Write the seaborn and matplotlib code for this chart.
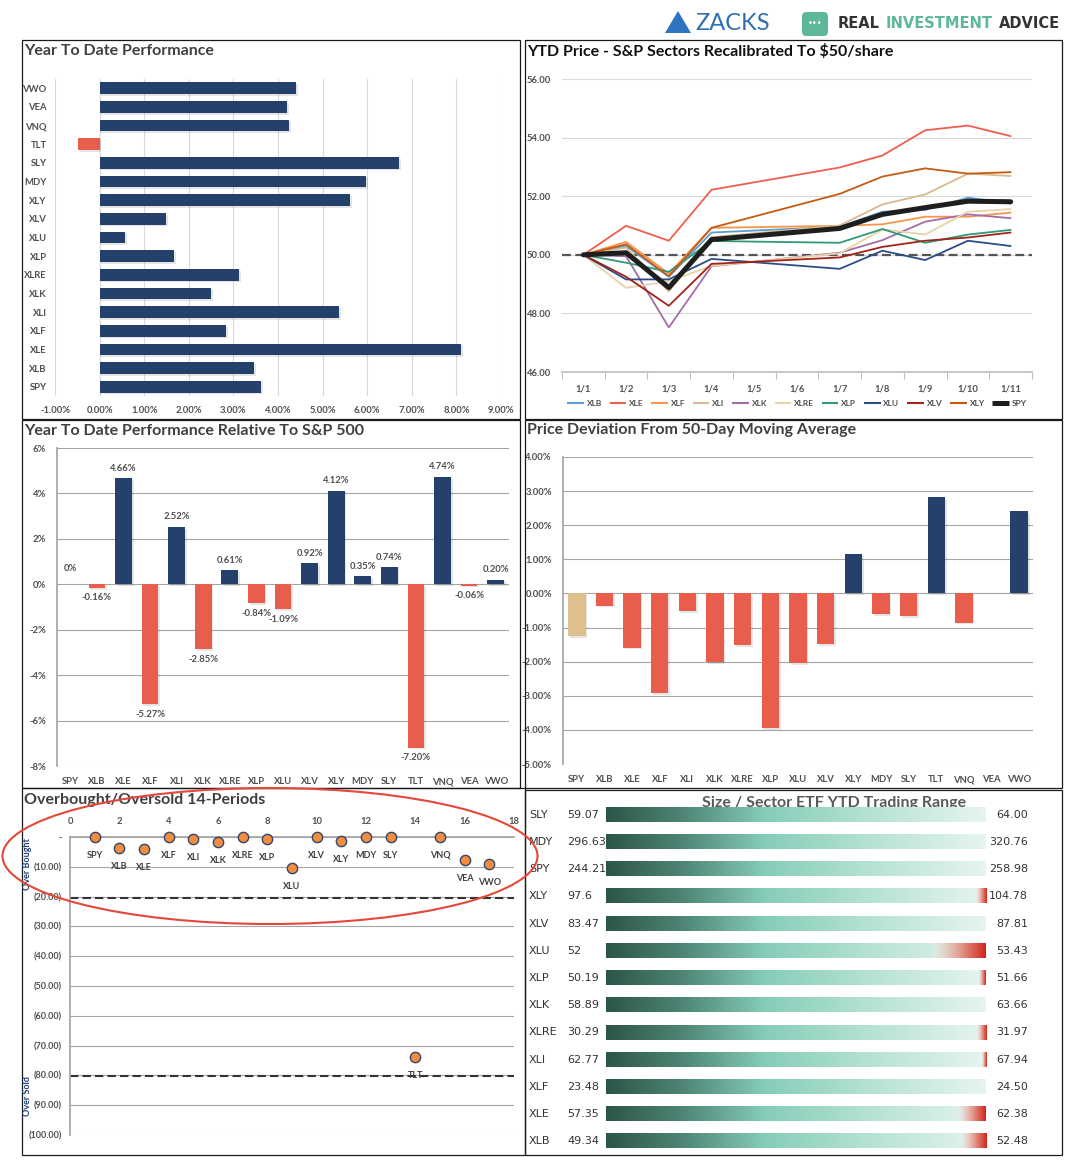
import numpy as np
import pandas as pd
import matplotlib
matplotlib.use("Agg")
import matplotlib.pyplot as plt
import seaborn as sns
from matplotlib.patches import Rectangle, Ellipse, Polygon, FancyBboxPatch
from matplotlib.lines import Line2D
from matplotlib.colors import LinearSegmentedColormap
import matplotlib.patheffects as pe
import matplotlib.transforms as mtrans

# ---------------- DATA ----------------
ytd_tickers = ["VWO", "VEA", "VNQ", "TLT", "SLY", "MDY", "XLY", "XLV", "XLU",
               "XLP", "XLRE", "XLK", "XLI", "XLF", "XLE", "XLB", "SPY"]
ytd_perf = [4.41, 4.21, 4.25, -0.48, 6.72, 5.98, 5.62, 1.49, 0.58,
            1.67, 3.13, 2.50, 5.37, 2.84, 8.11, 3.47, 3.62]

all_dates = ["1/1", "1/2", "1/3", "1/4", "1/5", "1/6", "1/7", "1/8", "1/9", "1/10", "1/11"]
trade_dates = ["1/1", "1/2", "1/3", "1/4", "1/7", "1/8", "1/9", "1/10", "1/11"]
xlb = [50, 50.30, 49.25, 50.76, 50.96, 51.47, 51.53, 51.95, 51.75]
xle = [50, 50.99, 50.48, 52.22, 52.98, 53.39, 54.25, 54.41, 54.05]
xlf = [50, 50.44, 49.36, 50.92, 50.99, 51.04, 51.30, 51.30, 51.44]
xli = [50, 50.25, 48.75, 50.60, 51.00, 51.72, 52.06, 52.77, 52.69]
xlk = [50, 49.95, 47.52, 49.61, 50.07, 50.50, 51.13, 51.38, 51.25]
xlre = [50, 48.87, 49.10, 49.62, 50.05, 50.87, 50.69, 51.47, 51.56]
xlp = [50, 49.73, 49.42, 50.47, 50.41, 50.88, 50.41, 50.69, 50.85]
xlu = [50, 49.16, 49.16, 49.86, 49.52, 50.14, 49.82, 50.48, 50.30]
xlv = [50, 49.25, 48.26, 49.69, 49.91, 50.27, 50.48, 50.59, 50.76]
xly = [50, 50.36, 49.27, 50.92, 52.08, 52.67, 52.95, 52.77, 52.82]
spy = [50, 50.07, 48.88, 50.52, 50.90, 51.38, 51.61, 51.83, 51.81]
base_price = 50.0

rel_tickers = ["SPY", "XLB", "XLE", "XLF", "XLI", "XLK", "XLRE", "XLP", "XLU",
               "XLV", "XLY", "MDY", "SLY", "TLT", "VNQ", "VEA", "VWO"]
rel_perf = [0, -0.16, 4.66, -5.27, 2.52, -2.85, 0.61, -0.84, -1.09,
            0.92, 4.12, 0.35, 0.74, -7.20, 4.74, -0.06, 0.20]
dev_50ma = [-1.25, -0.36, -1.59, -2.93, -0.51, -2.01, -1.51, -3.95, -2.04,
            -1.48, 1.17, -0.60, -0.66, 2.82, -0.86, 0.0, 2.41]
obos_pos = list(range(1, 18))
obos_val = [0, -3.8, -4.1, 0, -0.8, -1.8, 0, -0.8, -10.5,
            0, -1.5, 0, 0, -73.9, 0, -7.8, -9.2]
overbought_level = -20.4
oversold_level = -80.2

range_tickers = ["SLY", "MDY", "SPY", "XLY", "XLV", "XLU", "XLP", "XLK",
                 "XLRE", "XLI", "XLF", "XLE", "XLB"]
range_low = [59.07, 296.63, 244.21, 97.6, 83.47, 52, 50.19, 58.89,
             30.29, 62.77, 23.48, 57.35, 49.34]
range_high = [64.00, 320.76, 258.98, 104.78, 87.81, 53.43, 51.66, 63.66,
              31.97, 67.94, 24.50, 62.38, 52.48]
red_start = [1.0, 1.0, 1.0, 0.973, 1.0, 0.861, 0.982, 1.0,
             0.975, 0.989, 1.0, 0.927, 0.934]

# ---------------- STYLE ----------------
W, H = 1069, 1164
sns.set_theme(style="white")
plt.rcParams['font.family'] = ['Lato', 'DejaVu Sans']
NAVY = "#23416A"
RED = "#E85D4C"
TAN = "#DEC08C"
TICK_C = "#505050"
GRID_C = "#A6A6A6"

fig = plt.figure(figsize=(W / 100, H / 100), dpi=100)


def rect(x0, y0, x1, y1):
    return [x0 / W, 1 - y1 / H, (x1 - x0) / W, (y1 - y0) / H]


def ftext(x, y, s, **kw):
    return fig.text(x / W, 1 - y / H, s, **kw)


def box(x0, y0, x1, y1):
    fig.add_artist(Rectangle((x0 / W, 1 - y1 / H), (x1 - x0) / W, (y1 - y0) / H,
                             transform=fig.transFigure, fill=False, ec="#1a1a1a", lw=0.9))


shadow = [pe.SimplePatchShadow(offset=(1.2, -1.2), shadow_rgbFace="#000000", alpha=0.10), pe.Normal()]
tick_kw = dict(fontsize=6.8, fontweight="bold", color=TICK_C)
bar_kw = dict(dodge=False, legend=False, width=0.63, saturation=1, linewidth=0, edgecolor="none")

# ---------------- HEADER ----------------
fig.add_artist(Polygon([(665 / W, 1 - 33 / H), (678 / W, 1 - 11 / H), (691 / W, 1 - 33 / H)],
                       closed=True, transform=fig.transFigure, fc="#2F74BE", ec="none"))
ftext(695, 23, "ZACKS", fontsize=17, color="#2F6DB5", va="center", ha="left")
fig.add_artist(FancyBboxPatch((802 / W, 1 - 36 / H), 26 / W, 24 / H,
                              boxstyle="round,pad=0,rounding_size=0.004",
                              transform=fig.transFigure, fc="#5DB89A", ec="none"))
ftext(815, 24, "•••", fontsize=6, color="white", va="center", ha="center", family="DejaVu Sans")
renderer = fig.canvas.get_renderer()
xh = 838
for s, c in [("REAL", "#333333"), ("INVESTMENT", "#5DB89A"), ("ADVICE", "#333333")]:
    t = ftext(xh, 24, s, fontsize=10.5, fontweight="bold", color=c, va="center",
              ha="left", family="DejaVu Sans")
    xh += t.get_window_extent(renderer=renderer).width + 6

# ---------------- PANEL BOXES ----------------
box(22, 40, 520, 419)
box(525, 40, 1062, 419)
box(22, 420, 520, 788)
box(525, 420, 1062, 788)
box(22, 788, 525, 1155)
box(525, 790, 1062, 1155)

title_kw = dict(fontsize=11.5, fontweight="bold", color="#404040", va="center", ha="left")
ftext(24, 51, "Year To Date Performance", **title_kw)
ftext(527, 51, "YTD Price - S&P Sectors Recalibrated To \\$50/share",
      **{**title_kw, "color": "#111111"})
ftext(24, 431, "Year To Date Performance Relative To S&P 500", **title_kw)
ftext(527, 430, "Price Deviation From 50-Day Moving Average", **title_kw)
ftext(24, 800, "Overbought/Oversold 14-Periods", **title_kw)

# ---------------- PANEL 1 : YTD performance ----------------
ax1 = fig.add_axes(rect(55, 79, 501, 396))
cols1 = [NAVY if v >= 0 else RED for v in ytd_perf]
sns.barplot(x=ytd_perf, y=ytd_tickers, hue=ytd_tickers, palette=cols1, orient="h",
            ax=ax1, zorder=3, **bar_kw)
for p in ax1.patches:
    p.set_path_effects(shadow)
ax1.set_xlim(-1, 9)
ax1.set_ylim(16.5, -0.5)
xt = np.arange(-1, 10)
ax1.set_xticks(xt)
ax1.set_xticklabels([f"{v:.2f}%" for v in xt], **tick_kw)
ax1.set_yticks(range(len(ytd_tickers)))
ax1.set_yticklabels(ytd_tickers, **tick_kw)
ax1.grid(axis="x", color="#D9D9D9", lw=0.8)
ax1.set_axisbelow(True)
for s in ax1.spines.values():
    s.set_visible(False)
ax1.tick_params(length=0, pad=6)
ax1.tick_params(axis="x", pad=7)
ax1.set_xlabel("")
ax1.set_ylabel("")

# ---------------- PANEL 2 : price lines ----------------
ax2 = fig.add_axes(rect(562, 79, 1032, 372))
series = {"XLB": xlb, "XLE": xle, "XLF": xlf, "XLI": xli, "XLK": xlk, "XLRE": xlre,
          "XLP": xlp, "XLU": xlu, "XLV": xlv, "XLY": xly}
line_cols = {"XLB": "#5B9BD5", "XLE": "#EE5E4E", "XLF": "#F7964A", "XLI": "#D7BB8E",
             "XLK": "#A46CA8", "XLRE": "#E8D2A8", "XLP": "#2E9A78", "XLU": "#2A4D86",
             "XLV": "#A3221A", "XLY": "#C65A12", "SPY": "#1E1E1E"}
rows = []
for name, vals in series.items():
    for d, v in zip(trade_dates, vals):
        rows.append({"x": all_dates.index(d), "price": v, "ticker": name})
df2 = pd.DataFrame(rows)
ax2.axhline(base_price, color="#555555", lw=1.6, ls=(0, (4, 2)), zorder=2)
sns.lineplot(data=df2, x="x", y="price", hue="ticker", palette=line_cols,
             hue_order=list(series.keys()), lw=1.3, legend=False, ax=ax2, zorder=3)
df_spy = pd.DataFrame({"x": [all_dates.index(d) for d in trade_dates], "price": spy})
sns.lineplot(data=df_spy, x="x", y="price", color=line_cols["SPY"], lw=3.6, ax=ax2, zorder=4)
ax2.set_xlim(-0.5, 10.5)
ax2.set_ylim(46, 56)
yt2 = np.arange(46, 57, 2)
ax2.set_yticks(yt2)
ax2.set_yticklabels([f"{v:.2f}" for v in yt2], **tick_kw)
ax2.set_xticks(range(len(all_dates)))
ax2.set_xticklabels(all_dates, **tick_kw)
ax2.set_xticks(np.arange(-0.5, 11, 1), minor=True)
ax2.tick_params(axis="x", which="major", length=0, pad=9)
ax2.tick_params(axis="x", which="minor", length=5, color="#BFBFBF", width=0.8, bottom=True)
ax2.tick_params(axis="y", length=0, pad=8)
ax2.grid(axis="y", color="#D9D9D9", lw=0.8)
for k, s in ax2.spines.items():
    s.set_visible(k == "bottom")
ax2.spines["bottom"].set_color("#BFBFBF")
ax2.set_xlabel("")
ax2.set_ylabel("")
handles = [Line2D([0], [0], color=line_cols[k], lw=(3.6 if k == "SPY" else 1.5),
                  solid_capstyle="butt")
           for k in list(series.keys()) + ["SPY"]]
fig.legend(handles, list(series.keys()) + ["SPY"], loc="center",
           bbox_to_anchor=(797 / W, 1 - 403 / H), ncol=11, frameon=False,
           prop={"size": 6, "weight": "bold"}, handlelength=2.0, columnspacing=0.9,
           handletextpad=0.35, labelcolor=TICK_C)

# ---------------- PANEL 3 : relative performance ----------------
ax3 = fig.add_axes(rect(57, 448, 509, 766))
cols3 = [NAVY if v > 0 else RED for v in rel_perf]
sns.barplot(x=rel_tickers, y=rel_perf, hue=rel_tickers, palette=cols3, ax=ax3, zorder=3, **bar_kw)
for p in ax3.patches:
    p.set_path_effects(shadow)
ax3.set_ylim(-8, 6)
ax3.set_xlim(-0.5, 16.5)
yt3 = np.arange(-8, 7, 2)
ax3.set_yticks(yt3)
ax3.set_yticklabels([f"{v}%" for v in yt3], **tick_kw)
ax3.set_xticks(range(len(rel_tickers)))
ax3.set_xticklabels(rel_tickers, **tick_kw)
ax3.tick_params(length=0)
ax3.tick_params(axis="x", pad=8)
ax3.tick_params(axis="y", pad=8)
ax3.grid(axis="y", color=GRID_C, lw=0.8)
ax3.set_axisbelow(True)
for k, s in ax3.spines.items():
    s.set_visible(k == "left")
ax3.spines["left"].set_color(GRID_C)
for i, v in enumerate(rel_perf):
    lab = "0%" if v == 0 else f"{v:.2f}%"
    if v >= 0:
        ax3.annotate(lab, (i, v), xytext=(0, 8 if v == 0 else 4), textcoords="offset points",
                     ha="center", va="bottom", **tick_kw)
    else:
        ax3.annotate(lab, (i, v), xytext=(0, -4), textcoords="offset points",
                     ha="center", va="top", **tick_kw)
ax3.set_xlabel("")
ax3.set_ylabel("")

# ---------------- PANEL 4 : deviation from 50 DMA ----------------
ax4 = fig.add_axes(rect(563, 457, 1033, 764))
cols4 = [TAN if t == "SPY" else (NAVY if v > 0 else RED) for t, v in zip(rel_tickers, dev_50ma)]
sns.barplot(x=rel_tickers, y=dev_50ma, hue=rel_tickers, palette=cols4, ax=ax4, zorder=3, **bar_kw)
for p in ax4.patches:
    p.set_path_effects(shadow)
ax4.set_ylim(-5, 4)
ax4.set_xlim(-0.5, 16.5)
yt4 = np.arange(-5, 5, 1)
ax4.set_yticks(yt4)
ax4.set_yticklabels([f"{v:.2f}%" for v in yt4], **tick_kw)
ax4.set_xticks(range(len(rel_tickers)))
ax4.set_xticklabels(rel_tickers, **tick_kw)
ax4.tick_params(length=0)
ax4.tick_params(axis="x", pad=8)
ax4.tick_params(axis="y", pad=8)
ax4.grid(axis="y", color=GRID_C, lw=0.8)
ax4.set_axisbelow(True)
for k, s in ax4.spines.items():
    s.set_visible(k == "left")
ax4.spines["left"].set_color(GRID_C)
ax4.set_xlabel("")
ax4.set_ylabel("")

# ---------------- PANEL 5 : overbought / oversold ----------------
ax5 = fig.add_axes(rect(70, 837, 514, 1135))
ax5.axhline(overbought_level, color="#333333", lw=1.5, ls=(0, (4, 2)), zorder=2)
ax5.axhline(oversold_level, color="#333333", lw=1.5, ls=(0, (4, 2)), zorder=2)
sns.scatterplot(x=obos_pos, y=obos_val, color="#F28C3E", edgecolor="#33466B",
                linewidth=1.0, s=55, ax=ax5, zorder=5, clip_on=False)
for xp, v, t in zip(obos_pos, obos_val, rel_tickers):
    ax5.annotate(t, (xp, v), xytext=(0, -10), textcoords="offset points",
                 ha="center", va="top", fontsize=6.5, fontweight="bold", color="#404040")
ax5.set_xlim(0, 18)
ax5.set_ylim(-100, 0)
ax5.xaxis.tick_top()
ax5.set_xticks(range(0, 19, 2))
ax5.set_xticklabels([str(v) for v in range(0, 19, 2)], **tick_kw)
yt5 = np.arange(0, -101, -10)
ax5.set_yticks(yt5)
ax5.set_yticklabels(["-"] + [f"({abs(v):.2f})" for v in yt5[1:]],
                    **{**tick_kw, "fontsize": 6.5})
ax5.tick_params(length=0)
ax5.tick_params(axis="x", pad=8)
ax5.tick_params(axis="y", pad=6)
ax5.grid(axis="y", color=GRID_C, lw=0.8)
ax5.set_axisbelow(True)
for k, s in ax5.spines.items():
    s.set_visible(k in ("left", "top"))
    s.set_color(GRID_C)
ftext(27, 864, "Over Bought", rotation=90, fontsize=6.5, fontweight="bold",
      color="#1F3F73", va="center", ha="center")
ftext(27, 1096, "Over Sold", rotation=90, fontsize=6.5, fontweight="bold",
      color="#1F3F73", va="center", ha="center")

# ---------------- PANEL 6 : trading ranges ----------------
ax6 = fig.add_axes(rect(606, 801, 986, 1155))
green_cmap = LinearSegmentedColormap.from_list(
    "rng", [(0, "#2C5648"), (0.2, "#4E8575"), (0.42, "#86CDB9"), (0.7, "#B6E2D4"), (1, "#E6F5F0")])
red_cmap = LinearSegmentedColormap.from_list("redr", ["#FCE9E6", "#EE8E80", "#E04A3A", "#CC2418"])
grad = np.linspace(0, 1, 400)[None, :]
hh = 0.26
ax6.text(0.6, -0.42, "Size / Sector ETF YTD Trading Range", ha="center", va="center",
         fontsize=11.5, fontweight="bold", color="#595959", zorder=0.5,
         transform=mtrans.blended_transform_factory(ax6.transAxes, ax6.transData))
tr_lbl = mtrans.blended_transform_factory(fig.transFigure, ax6.transData)
for i, (tk, lo, hi, rs) in enumerate(zip(range_tickers, range_low, range_high, red_start)):
    ax6.imshow(grad, cmap=green_cmap, extent=(0, 1, i + hh, i - hh), aspect="auto",
               interpolation="bilinear", zorder=1)
    if rs < 1.0:
        rgba = red_cmap(grad)
        rgba[..., 3] = np.linspace(0.25, 1.0, grad.shape[1])
        ax6.imshow(rgba, extent=(rs, 1, i + hh, i - hh), aspect="auto",
                   interpolation="bilinear", zorder=2)
    ax6.text(529 / W, i, tk, transform=tr_lbl, ha="left", va="center",
             fontsize=8, color="#333333", family="DejaVu Sans")
    ax6.text(567 / W, i, f"{lo:g}", transform=tr_lbl, ha="left", va="center",
             fontsize=8, color="#333333", family="DejaVu Sans")
    ax6.text(1028 / W, i, f"{hi:.2f}", transform=tr_lbl, ha="right", va="center",
             fontsize=8, color="#333333", family="DejaVu Sans")
ax6.set_xlim(0, 1)
ax6.set_ylim(12.5, -0.5)
ax6.axis("off")

# ---------------- RED ELLIPSE ----------------
fig.add_artist(Ellipse((270 / W, 1 - 856 / H), 535 / W, 136 / H, transform=fig.transFigure,
                       fill=False, ec="#E5483A", lw=1.5, zorder=10))

fig.savefig("out.png", dpi=100, facecolor="white")
